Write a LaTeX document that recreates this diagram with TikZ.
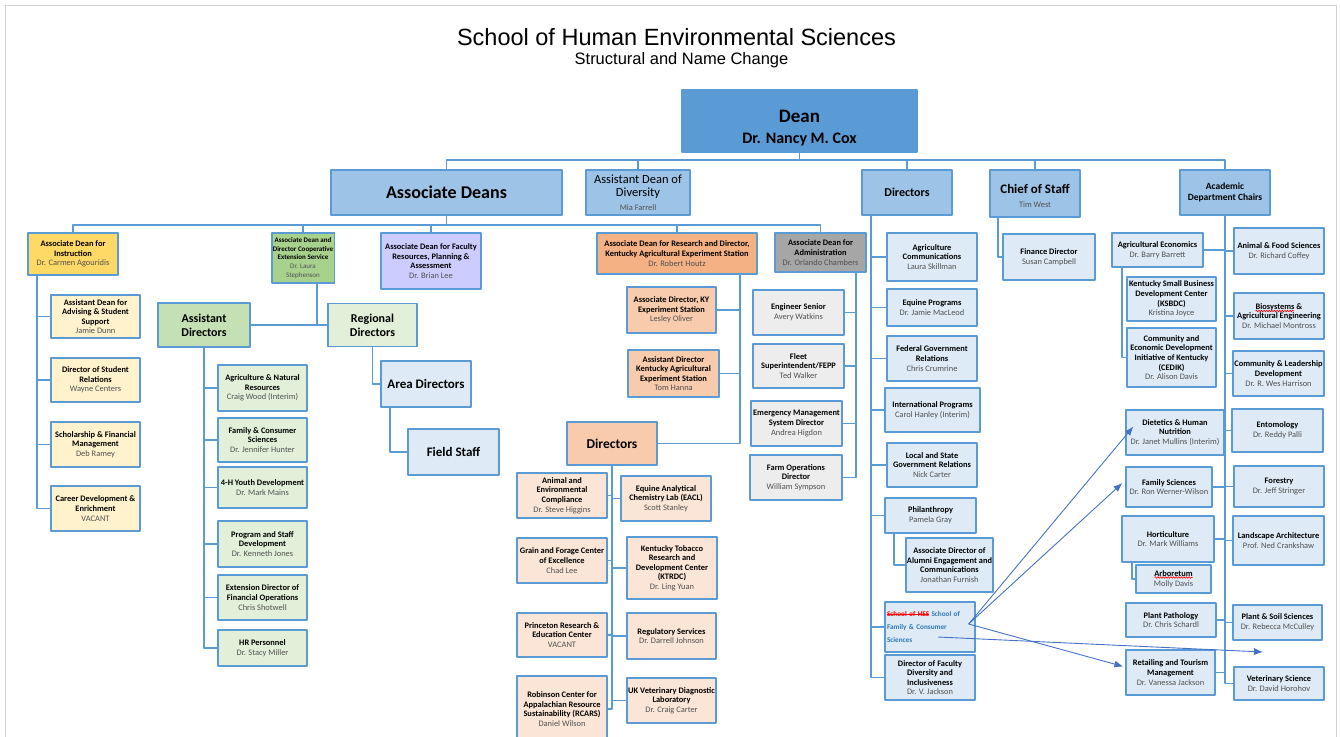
\documentclass[tikz,border=0pt]{standalone}
\usepackage{fontspec}
\setmainfont{Carlito}
\newfontfamily\headfont{Liberation Sans}
\usetikzlibrary{arrows.meta,calc,decorations.pathmorphing}

\definecolor{edge}{HTML}{5B9BD5}
\definecolor{wire}{HTML}{5B9BD5}
\definecolor{deanblue}{HTML}{5B9BD5}
\definecolor{midblue}{HTML}{9DC3E6}
\definecolor{paleblue}{HTML}{DEEBF7}
\definecolor{gold}{HTML}{FFD966}
\definecolor{paleyellow}{HTML}{FFF2CC}
\definecolor{extgreen}{HTML}{A9D18E}
\definecolor{asstgreen}{HTML}{C5E0B4}
\definecolor{palegreen}{HTML}{E2F0D9}
\definecolor{lavender}{HTML}{CCCCFF}
\definecolor{resorange}{HTML}{F4B183}
\definecolor{peach}{HTML}{F8CBAD}
\definecolor{palepeach}{HTML}{FBE5D6}
\definecolor{admgray}{HTML}{A6A6A6}
\definecolor{admlight}{HTML}{EDEDED}
\definecolor{namegray}{HTML}{505050}
\definecolor{fcsblue}{HTML}{2E75B6}
\definecolor{arrowblue}{HTML}{4472C4}

% names under a title
\newcommand{\nm}[1]{{\mdseries\color{namegray}#1}}
% struck-out words
\newsavebox{\strikebox}
\newcommand{\struck}[1]{\sbox{\strikebox}{#1}\rlap{\rule[0.3em]{\wd\strikebox}{0.6pt}}\usebox{\strikebox}}

\begin{document}
\begin{tikzpicture}[x=1pt, y=-1pt, line join=round,
  orgbox/.style={draw=edge, line width=1.3pt, align=center, inner sep=1pt, font=\fontsize{8.4}{9.6}\selectfont\bfseries},
  sz/.style 2 args={minimum width=#1, minimum height=#2},
  conn/.style={draw=wire, line width=1.3pt},
  spellwave/.style={draw=red, line width=0.6pt, decorate, decoration={snake, amplitude=0.8pt, segment length=2.6pt}},
  movearrow/.style={draw=arrowblue, line width=0.9pt, -{Latex[length=9pt,width=7pt]}}]
\useasboundingbox (0,0) rectangle (1340,736);
\draw[gray!35, line width=0.8pt] (5,5) rectangle (1336,745);

% heading
\node[font=\headfont\fontsize{23.5}{26}\selectfont] (title) at (676.5,37) {School of Human Environmental Sciences};
\node[font=\headfont\fontsize{16.5}{18}\selectfont] (subtitle) at (681.5,60) {Structural and Name Change};

% top levels
\node[orgbox, fill=deanblue, sz={235}{62}, font=\fontsize{17}{20.5}\selectfont\bfseries] (dean) at (799.5,121) {\rule{0pt}{27pt}{\fontsize{19}{21}\selectfont Dean}\\ {\fontsize{16}{21}\selectfont Dr. Nancy M. Cox}};
\node[orgbox, fill=midblue, sz={231}{45}] (assocdeans) at (446.5,192.5) {\fontsize{18}{20}\selectfont Associate Deans};
\node[orgbox, fill=midblue, sz={104}{45}, font=\fontsize{12.5}{13.5}\selectfont] (diversity) at (638,192.5) {Assistant Dean of\\ Diversity\\ {\fontsize{8.4}{9}\selectfont\nm{Mia Farrell}}};
\node[orgbox, fill=midblue, sz={90}{45}, font=\fontsize{12}{14}\selectfont\bfseries] (dirs) at (907,192.5) {Directors};
\node[orgbox, fill=midblue, sz={90}{47}, font=\fontsize{13}{14.5}\selectfont\bfseries] (chief) at (1035,193.5) {\rule{0pt}{14pt}Chief of Staff\\ {\fontsize{8.4}{9}\selectfont\nm{Tim West}}};
\node[orgbox, fill=midblue, sz={90}{45}, font=\fontsize{9.5}{11.5}\selectfont\bfseries] (chairs) at (1225,192.5) {Academic\\ Department Chairs};

\coordinate (rail1) at (799.5,160);
\draw[conn] (dean.south) -- (rail1);
\foreach \c in {assocdeans,diversity,dirs,chief,chairs}
  \draw[conn] (rail1) -| (\c.north);

% associate deans
\node[orgbox, fill=gold, sz={90}{42}] (instr) at (73,254) {Associate Dean for\\ Instruction\\ \nm{Dr. Carmen Agouridis}};
\node[orgbox, fill=extgreen, sz={62}{50}, font=\fontsize{7}{8.8}\selectfont\bfseries] (ext) at (303,258) {Associate Dean and\\ Director Cooperative\\ Extension Service\\ \nm{Dr. Laura}\\ \nm{Stephenson}};
\node[orgbox, fill=lavender, sz={100}{56}] (fac) at (431,261) {Associate Dean for Faculty\\ Resources, Planning \&\\ Assessment\\ \nm{Dr. Brian Lee}};
\node[orgbox, fill=resorange, sz={160}{41}] (res) at (677,253.5) {Associate Dean for Research and Director,\\ Kentucky Agricultural Experiment Station\\ \nm{Dr. Robert Houtz}};
\node[orgbox, fill=admgray, sz={91}{39}] (adm) at (820.5,252.5) {Associate Dean for\\ Administration\\ \nm{Dr. Orlando Chambers}};

\coordinate (rail2) at (446.5,225);
\draw[conn] (assocdeans.south) -- (rail2);
\foreach \c in {instr,ext,fac,res,adm}
  \draw[conn] (rail2) -| (\c.north);

% instruction
\node[orgbox, fill=paleyellow, sz={89}{43}] (ia) at (95.5,316.5) {Assistant Dean for\\ Advising \& Student\\ Support\\ \nm{Jamie Dunn}};
\node[orgbox, fill=paleyellow, sz={89}{44}] (ib) at (95.5,380) {Director of Student\\ Relations\\ \nm{Wayne Centers}};
\node[orgbox, fill=paleyellow, sz={89}{45}] (ic) at (95.5,444.5) {Scholarship \& Financial\\ Management\\ \nm{Deb Ramey}};
\node[orgbox, fill=paleyellow, sz={89}{45}] (id) at (95.5,508.5) {Career Development \&\\ Enrichment\\ \nm{VACANT}};
\foreach \c in {ia,ib,ic,id}
  \draw[conn] ([xshift=-36]instr.south) |- (\c.west);

% extension
\node[orgbox, fill=asstgreen, sz={92}{44}, font=\fontsize{12}{14}\selectfont\bfseries] (asstdir) at (204,325) {Assistant\\ Directors};
\node[orgbox, fill=palegreen, sz={89}{43}, font=\fontsize{12}{14}\selectfont\bfseries] (regdir) at (372.5,325) {Regional\\ Directors};
\draw[conn] ([xshift=14]ext.south) |- (asstdir.east);
\draw[conn] ([xshift=14]ext.south) |- (regdir.west);

\node[orgbox, fill=palegreen, sz={89}{46}] (a1) at (262.5,388) {Agriculture \& Natural\\ Resources\\ \nm{Craig Wood (Interim)}};
\node[orgbox, fill=palegreen, sz={89}{44}] (a2) at (262.5,440) {Family \& Consumer\\ Sciences\\ \nm{Dr. Jennifer Hunter}};
\node[orgbox, fill=palegreen, sz={89}{41}] (a3) at (262.5,487.5) {4-H Youth Development\\ \nm{Dr. Mark Mains}};
\node[orgbox, fill=palegreen, sz={89}{46}] (a4) at (262.5,544) {Program and Staff\\ Development\\ \nm{Dr. Kenneth Jones}};
\node[orgbox, fill=palegreen, sz={89}{45}] (a5) at (262.5,597.5) {Extension Director of\\ Financial Operations\\ \nm{Chris Shotwell}};
\node[orgbox, fill=palegreen, sz={89}{36}] (a6) at (262.5,648) {HR Personnel\\ \nm{Dr. Stacy Miller}};
\foreach \c in {a1,a2,a3,a4,a5,a6}
  \draw[conn] (asstdir.south) |- (\c.west);

\node[orgbox, fill=paleblue, sz={90}{46}, font=\fontsize{13}{15}\selectfont\bfseries] (area) at (426,384) {Area Directors};
\node[orgbox, fill=paleblue, sz={91}{46}, font=\fontsize{13}{15}\selectfont\bfseries] (field) at (453.5,452) {Field Staff};
\draw[conn] (regdir.south) |- (area.west);
\draw[conn] ([xshift=-36]area.south) |- (field.west);

% research
\node[orgbox, fill=peach, sz={89}{46}] (r1) at (671.5,310) {Associate Director, KY\\ Experiment Station\\ \nm{Lesley Oliver}};
\node[orgbox, fill=peach, sz={91}{47}] (r2) at (673.5,373.5) {Assistant Director\\ Kentucky Agricultural\\ Experiment Station\\ \nm{Tom Hanna}};
\node[orgbox, fill=peach, sz={90}{43}, font=\fontsize{13.5}{15}\selectfont\bfseries] (rdirs) at (612,443.5) {Directors};
\foreach \c in {r1,r2,rdirs}
  \draw[conn] ([xshift=63]res.south) |- (\c.east);

\node[orgbox, fill=palepeach, sz={90}{45}] (d1) at (562,495.5) {Animal and\\ Environmental\\ Compliance\\ \nm{Dr. Steve Higgins}};
\node[orgbox, fill=palepeach, sz={90}{45}] (d2) at (666,498.5) {Equine Analytical\\ Chemistry Lab (EACL)\\ \nm{Scott Stanley}};
\node[orgbox, fill=palepeach, sz={90}{45}] (d3) at (562,560.5) {Grain and Forage Center\\ of Excellence\\ \nm{Chad Lee}};
\node[orgbox, fill=palepeach, sz={90}{62}] (d4) at (672,568) {Kentucky Tobacco\\ Research and\\ Development Center\\ (KTRDC)\\ \nm{Dr. Ling Yuan}};
\node[orgbox, fill=palepeach, sz={90}{44}] (d5) at (562,635) {Princeton Research \&\\ Education Center\\ \nm{VACANT}};
\node[orgbox, fill=palepeach, sz={89}{46}] (d6) at (671.5,636) {Regulatory Services\\ \nm{Dr. Darrell Johnson}};
\node[orgbox, fill=palepeach, sz={90}{66}] (d7) at (562,709) {Robinson Center for\\ Appalachian Resource\\ Sustainability (RCARS)\\ \nm{Daniel Wilson}};
\node[orgbox, fill=palepeach, sz={89}{45}] (d8) at (671.5,700.5) {UK Veterinary Diagnostic\\ Laboratory\\ \nm{Dr. Craig Carter}};
\foreach \c in {d1,d3,d5,d7}
  \draw[conn] (rdirs.south) |- (\c.east);
\foreach \c in {d2,d4,d6,d8}
  \draw[conn] (rdirs.south) |- (\c.west);

% administration
\node[orgbox, fill=admlight, sz={91}{45}] (m1) at (798.5,312.5) {Engineer Senior\\ \nm{Avery Watkins}};
\node[orgbox, fill=admlight, sz={91}{44}] (m2) at (798.5,366) {Fleet\\ Superintendent/FEPP\\ \nm{Ted Walker}};
\node[orgbox, fill=admlight, sz={91}{45}] (m3) at (796.5,423.5) {Emergency Management\\ System Director\\ \nm{Andrea Higdon}};
\node[orgbox, fill=admlight, sz={92}{45}] (m4) at (796,477.5) {Farm Operations\\ Director\\ \nm{William Sympson}};
\foreach \c in {m1,m2,m3,m4}
  \draw[conn] ([xshift=35.5]adm.south) |- (\c.east);

% directors
\node[orgbox, fill=paleblue, sz={90}{48}] (t1) at (932,257) {Agriculture\\ Communications\\ \nm{Laura Skillman}};
\node[orgbox, fill=paleblue, sz={90}{37}] (t2) at (932,307.5) {Equine Programs\\ \nm{Dr. Jamie MacLeod}};
\node[orgbox, fill=paleblue, sz={90}{45}] (t3) at (932,358.5) {Federal Government\\ Relations\\ \nm{Chris Crumrine}};
\node[orgbox, fill=paleblue, sz={95}{44}] (t4) at (932.5,410) {International Programs\\ \nm{Carol Hanley (Interim)}};
\node[orgbox, fill=paleblue, sz={90}{44}] (t5) at (932,465) {Local and State\\ Government Relations\\ \nm{Nick Carter}};
\node[orgbox, fill=paleblue, sz={91}{35}] (t6) at (930.5,515.5) {Philanthropy\\ \nm{Pamela Gray}};
\node[orgbox, fill=paleblue, sz={87}{54}] (t6a) at (949.5,565) {Associate Director of\\ Alumni Engagement and\\ Communications\\ \nm{Jonathan Furnish}};
\node[orgbox, fill=paleblue, sz={90}{50}, align=left, text width=86, font=\fontsize{7.2}{13}\selectfont\bfseries] (t7) at (930,627)
  {\textcolor{red}{\struck{School of HES}} \textcolor{fcsblue}{School of}\\ \textcolor{fcsblue}{Family \& Consumer}\\ \textcolor{fcsblue}{Sciences}};
\node[orgbox, fill=paleblue, sz={90}{45}] (t8) at (930,677.5) {Director of Faculty\\ Diversity and\\ Inclusiveness\\ \nm{Dr. V. Jackson}};
\foreach \c in {t1,t2,t3,t4,t5,t6,t7,t8}
  \draw[conn] ([xshift=-36]dirs.south) |- (\c.west);
\draw[conn] ([xshift=-36.5]t6.south) |- (t6a.west);

% chief of staff
\node[orgbox, fill=paleblue, sz={92}{46}] (fin) at (1049,257) {Finance Director\\ \nm{Susan Campbell}};
\draw[conn] ([xshift=-37]chief.south) |- (fin.west);

% department chairs
\node[orgbox, fill=paleblue, sz={91}{34}] (c1) at (1157.5,250) {Agricultural Economics\\ \nm{Dr. Barry Barrett}};
\node[orgbox, fill=paleblue, sz={89}{44}] (c1a) at (1171.5,299) {Kentucky Small Business\\ Development Center\\ (KSBDC)\\ \nm{Kristina Joyce}};
\node[orgbox, fill=paleblue, sz={89}{59}] (c1b) at (1171.5,357.5) {Community and\\ Economic Development\\ Initiative of Kentucky\\ (CEDIK)\\ \nm{Dr. Alison Davis}};
\node[orgbox, fill=paleblue, sz={98}{45}] (c2) at (1175,432.5) {Dietetics \& Human\\ Nutrition\\ \nm{Dr. Janet Mullins (Interim)}};
\node[orgbox, fill=paleblue, sz={86}{40}] (c3) at (1169,487) {Family Sciences\\ \nm{Dr. Ron Werner-Wilson}};
\node[orgbox, fill=paleblue, sz={92}{46}] (c4) at (1168,539) {Horticulture\\ \nm{Dr. Mark Williams}};
\node[orgbox, fill=paleblue, sz={75}{28}] (c4a) at (1173.5,579) {Arboretum\\ \nm{Molly Davis}};
\node[orgbox, fill=paleblue, sz={90}{34}] (c5) at (1171,620) {Plant Pathology\\ \nm{Dr. Chris Schardl}};
\node[orgbox, fill=paleblue, sz={89}{45}] (c6) at (1170.5,672.5) {Retailing and Tourism\\ Management\\ \nm{Dr. Vanessa Jackson}};
\draw[conn] ([xshift=-35.5]c1.south) |- (c1b.west);
\draw[conn] ([xshift=-36]c4.south) |- (c4a.west);

\node[orgbox, fill=paleblue, sz={90}{46}] (e1) at (1279,251) {Animal \& Food Sciences\\ \nm{Dr. Richard Coffey}};
\node[orgbox, fill=paleblue, sz={90}{46}] (e2) at (1279,316) {Biosystems \&\\ Agricultural Engineering\\ \nm{Dr. Michael Montross}};
\node[orgbox, fill=paleblue, sz={91}{45}] (e3) at (1278.5,373.5) {Community \& Leadership\\ Development\\ \nm{Dr. R. Wes Harrison}};
\node[orgbox, fill=paleblue, sz={91}{43}] (e4) at (1277.5,430.5) {Entomology\\ \nm{Dr. Reddy Palli}};
\node[orgbox, fill=paleblue, sz={90}{41}] (e5) at (1279,486.5) {Forestry\\ \nm{Dr. Jeff Stringer}};
\node[orgbox, fill=paleblue, sz={91}{49}] (e6) at (1278.5,540.5) {Landscape Architecture\\ \nm{Prof. Ned Crankshaw}};
\node[orgbox, fill=paleblue, sz={89}{35}] (e7) at (1277.5,622.5) {Plant \& Soil Sciences\\ \nm{Dr. Rebecca McCulley}};
\node[orgbox, fill=paleblue, sz={90}{33}] (e8) at (1279,683.5) {Veterinary Science\\ \nm{Dr. David Horohov}};

\foreach \c in {c1,c2,c3,c4,c5,c6}
  \draw[conn] (chairs.south) |- (\c.east);
\foreach \c in {e1,e2,e3,e4,e5,e6,e7,e8}
  \draw[conn] (chairs.south) |- (\c.west);

% spell-check marks
\draw[spellwave] ($(c4a.center)+(-19,-1.5)$) -- ++(38,0);
\draw[spellwave] ($(e2.center)+(-23.5,-5)$) -- ++(38.5,0);

% moves of the new school
\coordinate (fcsout) at ($(t7.east)+(-7,-3)$);
\coordinate (fcsmid) at ($(t7.center)+(8,10)$);
\coordinate (vetgap) at (1263,652);
\draw[movearrow] (fcsout) -- ($(c2.west)+(8,-6)$);
\draw[movearrow] (fcsout) -- ($(c3.west)+(-3,-4)$);
\draw[movearrow] (fcsout) -- ($(c6.west)+(-2,-6)$);
\draw[movearrow] (fcsmid) -- (vetgap);
\end{tikzpicture}
\end{document}
